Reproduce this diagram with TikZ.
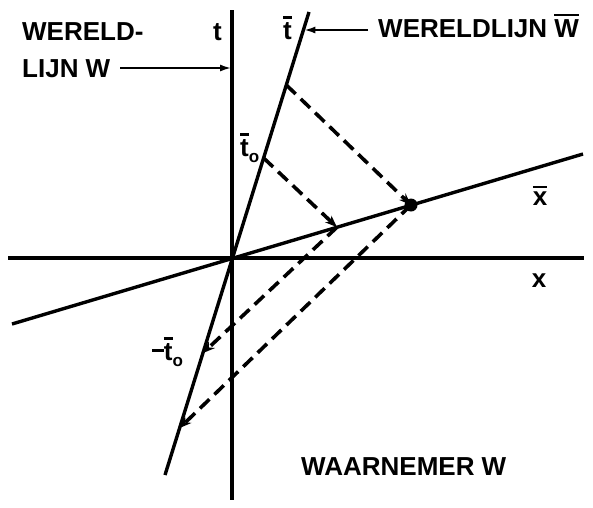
\documentclass[tikz,border=0pt]{standalone}
\usepackage{fontspec}
\setmainfont{Liberation Sans}
\usetikzlibrary{arrows.meta}
\newcommand{\ovb}[1]{\setbox0\hbox{#1}\rlap{\raisebox{\dimexpr\ht0+3pt\relax}{\rule{\wd0}{2.6pt}}}\box0}
\begin{document}
\begin{tikzpicture}[x=1pt,y=-1pt,
  axis/.style={line width=3.4pt},
  ray/.style={line width=3.6pt,dash pattern=on 13pt off 7pt,-{Stealth[length=12pt,width=9pt]}},
  pointer/.style={line width=2.6pt,-{Latex[length=12pt,width=7pt]}},
  lbl/.style={font=\fontsize{26}{30}\selectfont\bfseries,inner sep=0pt}]
\useasboundingbox (0,0) rectangle (593,507);
% axes
\coordinate (tTop) at (232,10);
\coordinate (tBot) at (232,500);
\coordinate (xL) at (8,258);
\coordinate (xR) at (584,258);
\coordinate (O) at (232,258);
\coordinate (tbTop) at (309,12);
\coordinate (tbBot) at (165,475);
\coordinate (xbL) at (12,324);
\coordinate (xbR) at (583,154);
% events
\coordinate (T2) at (286.3,85);
\coordinate (T1) at (263.6,158);
\coordinate (E1) at (337,227.2);
\coordinate (E2) at (411,205);
\coordinate (M1) at (203,353);
\coordinate (M2) at (179.6,428);
% pointer ends
\coordinate (pW) at (120,68);
\coordinate (pWax) at (232,68);
\coordinate (pWb) at (368,30);
\coordinate (pWbax) at (303.4,30);
\draw[axis] (tTop) -- (tBot);
\draw[axis] (xL) -- (xR);
\draw[axis] (tbBot) -- (tbTop);
\draw[axis] (xbL) -- (xbR);
% light rays
\draw[ray] (T1) -- (E1);
\draw[ray] (E1) -- (M1);
\draw[ray] (T2) -- (E2);
\draw[ray] (E2) -- (M2);
\fill (E2) circle (6.5pt);
% pointers
\draw[pointer] (pW) -- (pWax);
\draw[pointer] (pWb) -- (pWbax);
% labels
\node[lbl,anchor=base west] (lw1) at (22,40) {WERELD-};
\node[lbl,anchor=base west] (lw2) at (22,77) {LIJN W};
\node[lbl,anchor=base east] (lt) at (222,40) {t};
\node[lbl,anchor=base west] (ltb) at (283,39) {\ovb{t}};
\node[lbl,anchor=base west] (lwb) at (378,37) {WERELDLIJN \ovb{W}};
\node[lbl,anchor=base west] (lt0) at (240,156) {\ovb{t}\raisebox{-0.25em}{\fontsize{17}{17}\selectfont o}};
\node[lbl,anchor=base west] (lmt0) at (152,360) {\rule[0.3em]{0.45em}{3pt}\ovb{t}\raisebox{-0.25em}{\fontsize{17}{17}\selectfont o}};
\node[lbl,anchor=base] (lxb) at (540,205) {\ovb{x}};
\node[lbl,anchor=base] (lx) at (539,287) {x};
\node[lbl,anchor=base west] (lwaar) at (301,475) {WAARNEMER W};
\end{tikzpicture}
\end{document}
